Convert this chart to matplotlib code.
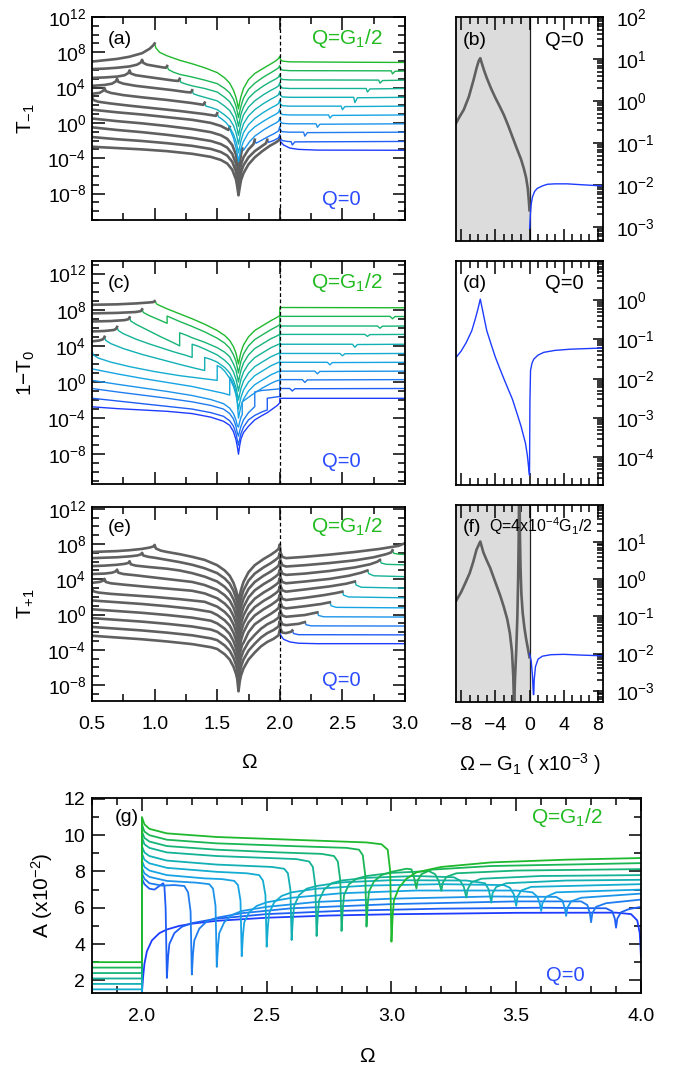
import numpy as np
import matplotlib
matplotlib.use("Agg")
import matplotlib.pyplot as plt
from matplotlib.ticker import (FixedLocator, MultipleLocator, FuncFormatter,
                               LogLocator, NullFormatter)

plt.rcParams['font.family'] = ['Liberation Sans', 'DejaVu Sans']
plt.rcParams['mathtext.fontset'] = 'custom'
plt.rcParams['mathtext.rm'] = 'Liberation Sans'
plt.rcParams['mathtext.it'] = 'Liberation Sans:italic'
plt.rcParams['mathtext.bf'] = 'Liberation Sans:bold'
plt.rcParams['axes.linewidth'] = 1.3

# ---------------------------------------------------------------------------
# data, curves k = 0 .. 10  (Q = k/10 * G1/2)
# main panels: (Omega, log10 value)
# ---------------------------------------------------------------------------
TM1_CURVES = [
    [(0.5,-2.7),(0.7,-2.85),(0.9,-3.0),(1.1,-3.2),(1.3,-3.5),(1.45,-3.85),(1.53,-4.2),(1.58,-4.6),(1.62,-5.3),(1.65,-6.4),(1.66,-7.2),(1.67,-8.2),(1.68,-7.3),(1.69,-6.5),(1.71,-5.7),(1.75,-4.7),(1.8,-3.9),(1.86,-3.2),(1.92,-2.6),(1.97,-2.2),(1.99,-2.0),(2.0,-1.8),(2.005,-2.1),(2.03,-2.5),(2.08,-2.85),(2.15,-3.0),(2.3,-3.08),(3.0,-3.1)],
    [(0.5,-1.6),(0.7,-1.85),(0.9,-2.05),(1.1,-2.3),(1.3,-2.6),(1.45,-2.95),(1.53,-3.3),(1.58,-3.7),(1.62,-4.4),(1.65,-5.5),(1.66,-6.3),(1.67,-7.3),(1.68,-6.4),(1.69,-5.6),(1.71,-4.8),(1.75,-3.9),(1.8,-3.2),(1.86,-2.6),(1.89,-2.3),(1.9,-1.9),(1.91,-2.2),(1.95,-2.0),(1.99,-1.7),(2.0,-1.3),(2.005,-1.8),(2.02,-2.0),(2.06,-2.1),(2.09,-2.12),(2.1,-2.5),(2.12,-2.15),(3.0,-2.1)],
    [(0.5,-0.5),(0.7,-0.8),(0.9,-1.05),(1.1,-1.35),(1.3,-1.7),(1.45,-2.05),(1.53,-2.4),(1.58,-2.8),(1.62,-3.5),(1.65,-4.6),(1.66,-5.4),(1.67,-6.4),(1.68,-5.5),(1.69,-4.7),(1.71,-3.9),(1.75,-3.0),(1.79,-2.4),(1.8,-1.9),(1.81,-2.3),(1.85,-2.0),(1.9,-1.6),(1.95,-1.25),(1.99,-0.9),(2.0,-0.4),(2.005,-0.85),(2.02,-1.0),(2.08,-1.05),(2.19,-1.05),(2.2,-1.5),(2.22,-1.1),(3.0,-1.05)],
    [(0.5,0.5),(0.7,0.2),(0.9,-0.05),(1.1,-0.35),(1.3,-0.7),(1.45,-1.05),(1.53,-1.4),(1.58,-1.8),(1.62,-2.5),(1.65,-3.6),(1.66,-4.4),(1.67,-5.4),(1.68,-4.5),(1.69,-3.6),(1.7,-2.9),(1.71,-3.1),(1.73,-2.7),(1.76,-2.1),(1.8,-1.5),(1.87,-0.8),(1.93,-0.3),(1.97,0.0),(1.99,0.2),(2.0,0.6),(2.005,0.15),(2.02,-0.05),(2.08,-0.1),(2.29,-0.1),(2.3,-0.5),(2.32,-0.15),(3.0,-0.1)],
    [(0.5,1.5),(0.7,1.2),(0.9,0.95),(1.1,0.65),(1.3,0.35),(1.45,0.0),(1.53,-0.35),(1.59,-0.8),(1.6,-0.45),(1.61,-1.0),(1.63,-1.7),(1.65,-2.8),(1.66,-3.5),(1.67,-4.4),(1.68,-3.6),(1.69,-2.9),(1.71,-2.1),(1.75,-1.1),(1.8,-0.45),(1.87,0.2),(1.93,0.7),(1.97,1.0),(1.99,1.2),(2.0,1.6),(2.005,1.15),(2.02,0.95),(2.08,0.9),(2.39,0.9),(2.4,0.55),(2.42,0.85),(3.0,0.9)],
    [(0.5,3.0),(0.51,2.6),(0.55,2.4),(0.65,2.2),(0.8,1.95),(1.0,1.65),(1.2,1.35),(1.4,1.0),(1.49,0.8),(1.5,1.1),(1.51,0.7),(1.54,0.4),(1.57,0.05),(1.6,-0.5),(1.63,-1.3),(1.65,-2.1),(1.66,-2.7),(1.67,-3.4),(1.68,-2.7),(1.69,-2.0),(1.71,-1.1),(1.75,-0.2),(1.8,0.5),(1.87,1.2),(1.93,1.7),(1.97,2.0),(1.99,2.2),(2.0,2.6),(2.005,2.15),(2.02,1.95),(2.08,1.9),(2.49,1.9),(2.5,1.5),(2.52,1.85),(3.0,1.9)],
    [(0.5,3.3),(0.56,3.4),(0.59,3.65),(0.6,3.95),(0.61,3.6),(0.65,3.4),(0.75,3.15),(0.9,2.9),(1.1,2.6),(1.3,2.25),(1.39,2.05),(1.4,2.3),(1.41,1.9),(1.45,1.75),(1.5,1.5),(1.56,0.9),(1.6,0.4),(1.63,-0.3),(1.65,-1.1),(1.66,-1.7),(1.67,-2.4),(1.68,-1.7),(1.69,-1.0),(1.71,-0.1),(1.75,0.8),(1.8,1.5),(1.87,2.2),(1.93,2.7),(1.97,3.0),(1.99,3.2),(2.0,3.6),(2.005,3.15),(2.02,2.95),(2.08,2.9),(2.59,2.9),(2.6,2.3),(2.62,2.85),(3.0,2.9)],
    [(0.5,4.2),(0.6,4.3),(0.66,4.45),(0.69,4.7),(0.7,5.0),(0.71,4.65),(0.75,4.45),(0.85,4.2),(1.0,3.95),(1.15,3.7),(1.25,3.5),(1.29,3.45),(1.3,3.7),(1.31,3.3),(1.35,3.1),(1.4,2.9),(1.5,2.5),(1.56,1.9),(1.6,1.4),(1.63,0.7),(1.65,-0.1),(1.66,-0.7),(1.67,-1.4),(1.68,-0.7),(1.69,0.0),(1.71,0.9),(1.75,1.8),(1.8,2.5),(1.87,3.2),(1.93,3.7),(1.97,4.0),(1.99,4.2),(2.0,4.55),(2.005,4.15),(2.02,3.95),(2.08,3.9),(2.69,3.9),(2.7,3.5),(2.72,3.85),(3.0,3.9)],
    [(0.5,5.1),(0.6,5.15),(0.7,5.25),(0.76,5.4),(0.79,5.65),(0.8,5.95),(0.81,5.6),(0.85,5.4),(0.95,5.2),(1.05,5.0),(1.15,4.8),(1.19,4.75),(1.2,5.0),(1.21,4.6),(1.25,4.4),(1.3,4.2),(1.4,3.9),(1.5,3.5),(1.56,2.9),(1.6,2.4),(1.63,1.7),(1.65,0.9),(1.66,0.3),(1.67,-0.4),(1.68,0.3),(1.69,1.0),(1.71,1.8),(1.75,2.8),(1.8,3.5),(1.87,4.2),(1.93,4.7),(1.97,5.0),(1.99,5.2),(2.0,5.5),(2.005,5.1),(2.02,4.92),(2.08,4.87),(2.79,4.85),(2.8,4.5),(2.82,4.8),(3.0,4.85)],
    [(0.5,6.1),(0.6,6.15),(0.7,6.25),(0.8,6.4),(0.86,6.6),(0.89,6.85),(0.9,7.15),(0.91,6.8),(0.94,6.6),(1.0,6.45),(1.06,6.3),(1.09,6.25),(1.1,6.45),(1.11,6.05),(1.15,5.75),(1.2,5.5),(1.3,5.2),(1.4,4.85),(1.5,4.45),(1.56,3.9),(1.6,3.4),(1.63,2.7),(1.65,1.9),(1.66,1.3),(1.67,0.6),(1.68,1.3),(1.69,1.9),(1.71,2.8),(1.75,3.8),(1.8,4.5),(1.87,5.2),(1.93,5.7),(1.97,6.05),(1.99,6.25),(2.0,6.5),(2.005,6.15),(2.02,5.98),(2.08,5.92),(2.89,5.9),(2.9,5.55),(2.92,5.85),(3.0,5.88)],
    [(0.5,6.95),(0.6,7.1),(0.7,7.25),(0.8,7.5),(0.9,7.9),(0.96,8.4),(0.99,8.8),(1.0,9.0),(1.01,8.5),(1.04,8.0),(1.1,7.6),(1.2,7.1),(1.3,6.7),(1.4,6.25),(1.5,5.7),(1.56,5.1),(1.6,4.5),(1.63,3.7),(1.65,2.9),(1.66,2.3),(1.67,1.6),(1.68,2.4),(1.69,3.0),(1.71,3.9),(1.75,4.9),(1.8,5.6),(1.87,6.2),(1.93,6.7),(1.97,7.05),(1.99,7.3),(2.0,7.55),(2.005,7.2),(2.02,7.0),(2.08,6.92),(2.5,6.88),(3.0,6.85)],
]
TM1_GRAY_END = [2.0, 1.9, 1.8, 1.7, 1.6, 1.5, 1.4, 1.3, 1.2, 1.1, 1.0]

T0_CURVES = [
    [(0.5,-2.75),(0.7,-2.95),(0.9,-3.1),(1.1,-3.25),(1.3,-3.5),(1.45,-3.9),(1.55,-4.35),(1.6,-4.8),(1.63,-5.5),(1.65,-6.4),(1.66,-7.1),(1.67,-8.0),(1.68,-7.0),(1.69,-6.3),(1.71,-5.6),(1.75,-4.9),(1.8,-4.2),(1.86,-3.7),(1.9,-3.4),(1.95,-2.9),(1.98,-2.6),(2.0,-2.3),(2.0,-1.81),(3.0,-1.81)],
    [(0.5,-1.8),(0.7,-2.1),(0.9,-2.4),(1.1,-2.7),(1.3,-3.0),(1.45,-3.4),(1.55,-3.8),(1.6,-4.3),(1.63,-4.9),(1.65,-5.7),(1.66,-6.4),(1.67,-7.0),(1.68,-6.3),(1.69,-5.7),(1.71,-5.0),(1.75,-4.2),(1.8,-3.7),(1.86,-3.3),(1.9,-3.1),(1.9,-1.8),(1.95,-1.7),(2.0,-1.6),(2.0,-0.72),(2.08,-0.72),(2.1,-1.0),(2.12,-0.75),(3.0,-0.72)],
    [(0.5,-0.72),(0.7,-1.1),(0.9,-1.45),(1.1,-1.8),(1.3,-2.2),(1.45,-2.6),(1.55,-3.0),(1.6,-3.5),(1.63,-4.1),(1.65,-4.9),(1.66,-5.6),(1.67,-6.0),(1.68,-5.4),(1.69,-4.9),(1.71,-4.2),(1.75,-3.4),(1.8,-2.73),(1.8,-1.1),(1.85,-0.95),(1.93,-0.85),(1.97,-0.8),(2.0,-0.75),(2.0,0.26),(2.18,0.26),(2.2,-0.05),(2.22,0.23),(3.0,0.26)],
    [(0.5,0.18),(0.7,-0.25),(0.9,-0.65),(1.1,-1.05),(1.3,-1.5),(1.45,-1.95),(1.55,-2.4),(1.6,-2.9),(1.63,-3.5),(1.65,-4.2),(1.66,-4.8),(1.67,-5.0),(1.68,-4.4),(1.69,-3.9),(1.7,-3.6),(1.7,-2.2),(1.72,-2.0),(1.75,-1.7),(1.8,-1.2),(1.87,-0.6),(1.93,-0.15),(1.97,0.1),(1.995,0.2),(2.0,0.25),(2.0,1.2),(2.28,1.2),(2.3,0.9),(2.32,1.17),(3.0,1.2)],
    [(0.5,1.45),(0.7,0.9),(0.9,0.4),(1.1,-0.05),(1.3,-0.5),(1.45,-0.95),(1.55,-1.25),(1.6,-1.45),(1.6,0.54),(1.62,0.1),(1.64,-0.6),(1.65,-1.2),(1.66,-2.2),(1.67,-4.0),(1.68,-3.3),(1.69,-2.7),(1.71,-1.9),(1.75,-1.0),(1.8,-0.3),(1.87,0.3),(1.93,0.8),(1.97,1.05),(1.995,1.2),(2.0,1.25),(2.0,2.18),(2.38,2.18),(2.4,1.9),(2.42,2.15),(3.0,2.18)],
    [(0.5,3.45),(0.51,3.0),(0.55,2.65),(0.65,2.2),(0.8,1.7),(1.0,1.15),(1.2,0.7),(1.4,0.35),(1.5,0.18),(1.5,1.82),(1.53,1.6),(1.56,1.2),(1.6,0.4),(1.63,-0.5),(1.65,-1.4),(1.66,-2.1),(1.67,-3.0),(1.68,-2.3),(1.69,-1.7),(1.71,-0.9),(1.75,0.0),(1.8,0.7),(1.87,1.3),(1.93,1.8),(1.97,2.05),(1.995,2.2),(2.0,2.25),(2.0,3.16),(2.48,3.16),(2.5,2.9),(2.52,3.13),(3.0,3.16)],
    [(0.5,4.5),(0.56,4.6),(0.59,4.75),(0.6,5.0),(0.61,4.6),(0.65,4.25),(0.75,3.7),(0.9,3.05),(1.05,2.5),(1.2,1.95),(1.3,1.6),(1.4,1.27),(1.4,2.72),(1.45,2.5),(1.5,2.2),(1.56,1.6),(1.6,1.0),(1.63,0.2),(1.65,-0.6),(1.66,-1.3),(1.67,-2.0),(1.68,-1.3),(1.69,-0.7),(1.71,0.1),(1.75,1.0),(1.8,1.7),(1.87,2.3),(1.93,2.8),(1.97,3.05),(1.995,3.2),(2.0,3.25),(2.0,4.18),(2.58,4.18),(2.6,3.85),(2.62,4.15),(3.0,4.18)],
    [(0.5,5.6),(0.6,5.65),(0.67,5.75),(0.69,5.85),(0.7,6.1),(0.71,5.7),(0.75,5.35),(0.85,4.75),(0.95,4.25),(1.05,3.8),(1.15,3.35),(1.25,2.95),(1.3,2.72),(1.3,4.18),(1.35,3.95),(1.4,3.65),(1.5,3.0),(1.56,2.4),(1.6,1.85),(1.63,1.1),(1.65,0.3),(1.66,-0.3),(1.67,-1.0),(1.68,-0.3),(1.69,0.3),(1.71,1.1),(1.75,2.0),(1.8,2.7),(1.87,3.3),(1.93,3.8),(1.97,4.05),(1.995,4.2),(2.0,4.25),(2.0,5.27),(2.68,5.27),(2.7,5.05),(2.72,5.25),(3.0,5.27)],
    [(0.5,6.7),(0.65,6.75),(0.76,6.85),(0.79,6.95),(0.8,7.15),(0.81,6.75),(0.85,6.4),(0.95,5.7),(1.05,5.0),(1.15,4.35),(1.2,4.0),(1.2,5.45),(1.25,5.2),(1.3,4.9),(1.4,4.4),(1.5,3.8),(1.56,3.3),(1.6,2.8),(1.63,2.0),(1.65,1.3),(1.66,0.65),(1.67,0.0),(1.68,0.7),(1.69,1.3),(1.71,2.1),(1.75,3.0),(1.8,3.7),(1.87,4.3),(1.93,4.8),(1.97,5.05),(1.995,5.25),(2.0,5.3),(2.0,6.2),(2.78,6.2),(2.8,5.95),(2.82,6.18),(3.0,6.2)],
    [(0.5,7.6),(0.7,7.65),(0.85,7.75),(0.89,7.85),(0.9,8.05),(0.91,7.7),(0.95,7.4),(1.0,7.1),(1.05,6.8),(1.1,6.5),(1.1,7.3),(1.15,7.0),(1.2,6.7),(1.3,6.15),(1.4,5.55),(1.5,4.85),(1.56,4.3),(1.6,3.75),(1.63,3.0),(1.65,2.3),(1.66,1.65),(1.67,1.0),(1.68,1.7),(1.69,2.3),(1.71,3.1),(1.75,4.0),(1.8,4.7),(1.87,5.3),(1.93,5.8),(1.97,6.1),(1.995,6.3),(2.0,6.35),(2.0,7.27),(2.88,7.27),(2.9,7.0),(2.92,7.25),(3.0,7.25)],
    [(0.5,8.55),(0.7,8.6),(0.85,8.7),(0.95,8.8),(0.99,8.85),(1.0,8.95),(1.02,8.6),(1.1,8.1),(1.2,7.55),(1.3,7.0),(1.4,6.4),(1.5,5.7),(1.56,5.15),(1.6,4.6),(1.63,3.9),(1.65,3.2),(1.66,2.6),(1.67,2.0),(1.68,2.7),(1.69,3.3),(1.71,4.1),(1.75,5.0),(1.8,5.7),(1.87,6.3),(1.93,6.8),(1.97,7.1),(1.995,7.3),(2.0,7.35),(2.0,8.25),(3.0,8.22)],
]
T0_GRAY_END = [None, None, None, None, None, None, 0.6, 0.7, 0.8, 0.9, 1.0]

TP1_CURVES = [
    [(0.5,-2.4),(0.7,-2.6),(0.9,-2.8),(1.1,-3.05),(1.3,-3.35),(1.45,-3.7),(1.5,-3.9),(1.56,-4.5),(1.6,-5.1),(1.63,-5.9),(1.65,-6.7),(1.66,-7.3),(1.67,-8.7),(1.68,-7.6),(1.69,-6.9),(1.71,-6.1),(1.75,-5.1),(1.8,-4.3),(1.85,-3.6),(1.9,-3.1),(1.95,-2.75),(1.99,-2.35),(2.0,-1.75),(2.005,-2.3),(2.03,-2.8),(2.08,-3.1),(2.15,-3.25),(2.3,-3.3),(3.0,-3.3)],
    [(0.5,-1.4),(0.7,-1.6),(0.9,-1.8),(1.1,-2.05),(1.3,-2.35),(1.45,-2.7),(1.5,-2.9),(1.56,-3.5),(1.6,-4.1),(1.63,-4.9),(1.65,-5.7),(1.66,-6.3),(1.67,-7.7),(1.68,-6.6),(1.69,-5.9),(1.71,-5.1),(1.75,-4.1),(1.8,-3.3),(1.85,-2.6),(1.9,-2.1),(1.95,-1.75),(1.99,-1.35),(2.0,-0.75),(2.005,-1.6),(2.02,-2.05),(2.05,-2.1),(2.09,-1.95),(2.1,-1.8),(2.11,-2.15),(2.15,-2.28),(3.0,-2.3)],
    [(0.5,-0.4),(0.7,-0.6),(0.9,-0.8),(1.1,-1.05),(1.3,-1.35),(1.45,-1.7),(1.5,-1.95),(1.56,-2.55),(1.6,-3.15),(1.63,-3.95),(1.65,-4.75),(1.66,-5.35),(1.67,-6.7),(1.68,-5.6),(1.69,-4.9),(1.71,-4.1),(1.75,-3.1),(1.8,-2.3),(1.85,-1.6),(1.9,-1.1),(1.95,-0.75),(1.99,-0.35),(2.0,0.25),(2.005,-0.6),(2.02,-1.1),(2.05,-1.2),(2.15,-1.05),(2.2,-0.85),(2.21,-1.15),(2.25,-1.28),(3.0,-1.3)],
    [(0.5,0.6),(0.7,0.4),(0.9,0.2),(1.1,-0.05),(1.3,-0.35),(1.45,-0.7),(1.5,-1.0),(1.56,-1.6),(1.6,-2.2),(1.63,-3.0),(1.65,-3.8),(1.66,-4.4),(1.67,-5.7),(1.68,-4.6),(1.69,-3.9),(1.7,-3.4),(1.71,-3.2),(1.75,-2.0),(1.8,-1.1),(1.87,-0.4),(1.93,0.1),(1.97,0.5),(1.99,0.75),(2.0,1.25),(2.005,0.4),(2.02,-0.1),(2.05,-0.25),(2.2,-0.05),(2.3,0.25),(2.31,-0.1),(2.35,-0.25),(3.0,-0.28)],
    [(0.5,1.6),(0.7,1.4),(0.9,1.2),(1.1,0.95),(1.3,0.65),(1.45,0.3),(1.5,-0.05),(1.56,-0.65),(1.6,-1.25),(1.63,-2.05),(1.65,-2.85),(1.66,-3.45),(1.67,-4.7),(1.68,-3.6),(1.69,-2.9),(1.71,-2.0),(1.75,-0.9),(1.8,-0.1),(1.87,0.6),(1.93,1.1),(1.97,1.5),(1.99,1.75),(2.0,2.25),(2.005,1.4),(2.02,0.85),(2.05,0.7),(2.2,0.95),(2.33,1.2),(2.4,1.4),(2.41,1.0),(2.45,0.82),(3.0,0.76)],
    [(0.5,3.0),(0.51,2.65),(0.55,2.5),(0.65,2.35),(0.8,2.2),(1.0,2.0),(1.2,1.75),(1.4,1.45),(1.5,0.9),(1.56,0.3),(1.6,-0.3),(1.63,-1.1),(1.65,-1.9),(1.66,-2.5),(1.67,-3.7),(1.68,-2.6),(1.69,-1.95),(1.71,-1.05),(1.75,0.05),(1.8,0.85),(1.87,1.55),(1.93,2.05),(1.97,2.45),(1.99,2.7),(2.0,3.2),(2.005,2.35),(2.02,1.8),(2.05,1.65),(2.2,1.9),(2.35,2.2),(2.45,2.45),(2.5,2.6),(2.51,2.2),(2.55,2.0),(3.0,1.9)],
    [(0.5,3.6),(0.56,3.7),(0.59,3.85),(0.6,4.05),(0.61,3.7),(0.65,3.55),(0.75,3.4),(0.9,3.2),(1.1,2.95),(1.3,2.7),(1.4,2.4),(1.5,1.85),(1.56,1.25),(1.6,0.65),(1.63,-0.15),(1.65,-0.95),(1.66,-1.55),(1.67,-2.7),(1.68,-1.65),(1.69,-1.0),(1.71,-0.1),(1.75,1.0),(1.8,1.8),(1.87,2.5),(1.93,3.0),(1.97,3.4),(1.99,3.65),(2.0,4.15),(2.005,3.3),(2.02,2.75),(2.05,2.6),(2.2,2.85),(2.4,3.2),(2.53,3.5),(2.6,3.75),(2.61,3.35),(2.65,3.1),(3.0,3.0)],
    [(0.5,4.6),(0.6,4.65),(0.66,4.75),(0.69,4.9),(0.7,5.1),(0.71,4.75),(0.75,4.6),(0.85,4.45),(1.0,4.2),(1.15,3.95),(1.3,3.7),(1.4,3.35),(1.5,2.8),(1.56,2.2),(1.6,1.6),(1.63,0.8),(1.65,0.0),(1.66,-0.6),(1.67,-1.7),(1.68,-0.7),(1.69,-0.05),(1.71,0.85),(1.75,1.95),(1.8,2.75),(1.87,3.45),(1.93,3.95),(1.97,4.35),(1.99,4.6),(2.0,5.1),(2.005,4.25),(2.02,3.7),(2.05,3.55),(2.2,3.75),(2.4,4.05),(2.55,4.4),(2.65,4.75),(2.7,5.0),(2.71,4.65),(2.75,4.4),(3.0,4.3)],
    [(0.5,5.5),(0.6,5.55),(0.7,5.65),(0.76,5.75),(0.79,5.85),(0.8,6.05),(0.81,5.7),(0.85,5.55),(0.95,5.4),(1.1,5.2),(1.2,5.0),(1.3,4.7),(1.4,4.3),(1.5,3.75),(1.56,3.15),(1.6,2.55),(1.63,1.75),(1.65,0.95),(1.66,0.35),(1.67,-0.7),(1.68,0.25),(1.69,0.9),(1.71,1.8),(1.75,2.9),(1.8,3.7),(1.87,4.4),(1.93,4.9),(1.97,5.3),(1.99,5.55),(2.0,6.05),(2.005,5.2),(2.02,4.65),(2.05,4.5),(2.2,4.65),(2.4,4.95),(2.6,5.35),(2.72,5.7),(2.78,6.0),(2.8,6.2),(2.81,5.85),(2.85,5.7),(3.0,5.64)],
    [(0.5,6.4),(0.6,6.45),(0.7,6.5),(0.8,6.6),(0.86,6.7),(0.89,6.82),(0.9,7.0),(0.91,6.7),(0.95,6.55),(1.0,6.45),(1.1,6.2),(1.2,5.95),(1.3,5.65),(1.4,5.25),(1.5,4.7),(1.56,4.1),(1.6,3.5),(1.63,2.7),(1.65,1.9),(1.66,1.3),(1.67,0.3),(1.68,1.2),(1.69,1.85),(1.71,2.75),(1.75,3.85),(1.8,4.65),(1.87,5.35),(1.93,5.85),(1.97,6.25),(1.99,6.5),(2.0,7.0),(2.005,6.15),(2.02,5.6),(2.05,5.45),(2.2,5.6),(2.4,5.85),(2.6,6.15),(2.75,6.5),(2.85,6.85),(2.89,7.05),(2.9,7.3),(2.91,6.95),(2.95,6.85),(3.0,6.82)],
    [(0.5,7.1),(0.6,7.15),(0.7,7.2),(0.8,7.3),(0.9,7.45),(0.96,7.6),(0.99,7.72),(1.0,7.9),(1.01,7.5),(1.05,7.25),(1.1,7.1),(1.2,6.85),(1.3,6.55),(1.4,6.2),(1.5,5.6),(1.56,5.0),(1.6,4.4),(1.63,3.6),(1.65,2.8),(1.66,2.2),(1.67,1.3),(1.68,2.2),(1.69,2.8),(1.71,3.7),(1.75,4.8),(1.8,5.6),(1.87,6.3),(1.93,6.8),(1.97,7.2),(1.99,7.45),(2.0,7.95),(2.005,7.1),(2.02,6.55),(2.05,6.4),(2.2,6.55),(2.4,6.8),(2.6,7.1),(2.8,7.45),(2.95,7.8),(3.0,8.1)],
]
TP1_GRAY_END = [2.0, 2.1, 2.2, 2.3, 2.4, 2.5, 2.6, 2.7, 2.8, 2.9, 3.0]

# panel (g): (Omega, A in units of 1e-2)
ABS_CURVES = [
    [(2.0,1.3),(2.005,2.2),(2.01,2.9),(2.02,3.6),(2.04,4.2),(2.07,4.6),(2.1,4.8),(2.15,5.0),(2.2,5.12),(2.3,5.28),(2.5,5.45),(2.75,5.57),(3.0,5.64),(3.5,5.72),(3.9,5.73),(3.96,5.65),(3.985,5.3),(3.995,4.6),(4.0,3.24)],
    [(2.0,1.3),(2.0,7.6),(2.01,7.3),(2.03,7.05),(2.05,7.0),(2.07,7.2),(2.085,7.35),(2.09,7.2),(2.095,6.0),(2.1,2.13),(2.105,3.3),(2.11,4.0),(2.13,4.6),(2.16,4.95),(2.2,5.15),(2.3,5.4),(2.5,5.65),(2.8,5.83),(3.2,5.95),(3.6,6.0),(3.86,5.97),(3.885,5.8),(3.895,5.4),(3.9,4.9),(3.905,5.4),(3.92,5.75),(3.95,5.92),(4.0,6.05)],
    [(2.0,1.3),(2.0,7.9),(2.01,7.6),(2.03,7.35),(2.08,7.22),(2.13,7.25),(2.17,7.2),(2.185,6.85),(2.195,5.8),(2.2,2.32),(2.205,3.5),(2.21,4.2),(2.23,4.85),(2.26,5.25),(2.3,5.45),(2.4,5.7),(2.6,5.97),(3.0,6.2),(3.5,6.35),(3.76,6.35),(3.785,6.15),(3.795,5.7),(3.8,5.2),(3.805,5.7),(3.82,6.05),(3.86,6.25),(4.0,6.45)],
    [(2.0,1.3),(2.0,8.2),(2.01,7.9),(2.03,7.7),(2.1,7.48),(2.22,7.38),(2.27,7.3),(2.285,7.05),(2.295,6.1),(2.3,2.74),(2.305,3.9),(2.31,4.6),(2.33,5.2),(2.36,5.6),(2.4,5.82),(2.5,6.05),(2.7,6.32),(3.0,6.5),(3.4,6.62),(3.66,6.6),(3.685,6.4),(3.695,5.95),(3.7,5.55),(3.705,6.0),(3.72,6.35),(3.76,6.55),(4.0,6.78)],
    [(2.0,1.3),(2.0,8.6),(2.01,8.25),(2.03,8.05),(2.1,7.8),(2.25,7.62),(2.32,7.58),(2.37,7.48),(2.385,7.25),(2.395,6.4),(2.4,3.33),(2.405,4.5),(2.41,5.2),(2.43,5.75),(2.46,6.1),(2.5,6.3),(2.6,6.55),(2.8,6.8),(3.1,6.95),(3.5,6.95),(3.565,6.85),(3.585,6.6),(3.595,6.2),(3.6,5.82),(3.605,6.25),(3.62,6.6),(3.66,6.85),(4.0,7.0)],
    [(1.8,1.5),(2.0,1.5),(2.0,9.0),(2.01,8.65),(2.03,8.45),(2.1,8.2),(2.3,7.98),(2.42,7.9),(2.47,7.8),(2.485,7.5),(2.495,6.7),(2.5,3.85),(2.505,5.0),(2.51,5.7),(2.53,6.3),(2.56,6.65),(2.6,6.85),(2.7,7.05),(2.9,7.22),(3.2,7.3),(3.45,7.25),(3.475,7.1),(3.49,6.75),(3.5,6.1),(3.505,6.6),(3.52,6.95),(3.56,7.15),(4.0,7.3)],
    [(1.8,1.8),(2.0,1.8),(2.0,9.4),(2.01,9.05),(2.03,8.85),(2.1,8.6),(2.3,8.38),(2.52,8.25),(2.57,8.15),(2.585,7.9),(2.595,7.0),(2.6,4.22),(2.605,5.4),(2.61,6.1),(2.63,6.7),(2.66,7.05),(2.7,7.2),(2.8,7.4),(3.0,7.52),(3.3,7.5),(3.375,7.35),(3.39,7.0),(3.4,6.28),(3.405,6.8),(3.42,7.15),(3.46,7.35),(3.7,7.5),(4.0,7.54)],
    [(1.8,2.1),(2.0,2.1),(2.0,9.9),(2.01,9.5),(2.03,9.3),(2.1,9.05),(2.3,8.85),(2.55,8.72),(2.62,8.68),(2.67,8.55),(2.685,8.25),(2.695,7.2),(2.7,4.44),(2.705,5.6),(2.71,6.4),(2.73,7.0),(2.76,7.35),(2.8,7.5),(2.9,7.65),(3.1,7.75),(3.25,7.68),(3.275,7.5),(3.29,7.15),(3.3,6.56),(3.305,7.0),(3.32,7.4),(3.36,7.6),(3.6,7.75),(4.0,7.8)],
    [(1.8,2.4),(2.0,2.4),(2.0,10.2),(2.01,9.85),(2.03,9.65),(2.1,9.4),(2.3,9.2),(2.55,9.05),(2.72,8.97),(2.77,8.85),(2.785,8.55),(2.795,7.5),(2.8,4.72),(2.805,5.9),(2.81,6.7),(2.83,7.3),(2.86,7.6),(2.9,7.75),(3.0,7.92),(3.15,8.02),(3.175,7.85),(3.19,7.45),(3.2,6.93),(3.205,7.35),(3.22,7.7),(3.26,7.9),(3.5,8.05),(4.0,8.13)],
    [(1.8,2.7),(2.0,2.7),(2.0,10.6),(2.01,10.2),(2.03,10.0),(2.1,9.75),(2.3,9.55),(2.6,9.4),(2.82,9.3),(2.87,9.2),(2.885,8.9),(2.895,7.8),(2.9,4.96),(2.905,6.2),(2.91,6.9),(2.93,7.45),(2.96,7.8),(3.0,7.98),(3.06,8.15),(3.08,8.12),(3.09,7.7),(3.1,7.06),(3.105,7.5),(3.12,7.85),(3.16,8.1),(3.4,8.3),(4.0,8.46)],
    [(1.8,3.0),(2.0,3.0),(2.0,11.0),(2.01,10.6),(2.03,10.35),(2.1,10.1),(2.3,9.9),(2.6,9.75),(2.9,9.6),(2.96,9.5),(2.985,9.2),(2.995,8.0),(3.0,4.13),(3.005,5.6),(3.01,6.4),(3.03,7.1),(3.06,7.6),(3.1,7.95),(3.2,8.25),(3.4,8.5),(3.7,8.65),(4.0,8.74)],
]

# side panels: (Omega - G1 in 1e-3, log10 value)
B_GRAY = [(-8.6,-0.53),(-8.2,-0.38),(-7.7,-0.21),(-7.1,0.1),(-6.55,0.5),(-6.2,0.78),(-5.95,0.95),(-5.76,1.02),(-5.55,0.88),(-5.3,0.72),(-5.0,0.55),(-4.5,0.3),(-4.0,0.08),(-3.5,-0.12),(-3.0,-0.33),(-2.5,-0.58),(-2.0,-0.85),(-1.5,-1.12),(-1.0,-1.38),(-0.67,-1.6),(-0.4,-1.82),(-0.2,-2.08),(-0.08,-2.36),(0.0,-2.6)]
B_BLUE = [(0.02,-3.03),(0.1,-2.7),(0.2,-2.45),(0.35,-2.28),(0.6,-2.15),(0.9,-2.08),(1.5,-2.02),(2.1,-1.98),(3.0,-1.97),(4.4,-1.97),(6.0,-1.99),(8.6,-2.02)]
D_BLUE = [(-8.6,-1.46),(-8.0,-1.3),(-7.4,-1.08),(-6.75,-0.78),(-6.3,-0.45),(-6.0,-0.2),(-5.76,0.02),(-5.5,-0.25),(-5.25,-0.52),(-5.0,-0.78),(-4.5,-1.12),(-4.0,-1.45),(-3.5,-1.73),(-3.0,-2.0),(-2.6,-2.21),(-2.0,-2.52),(-1.45,-2.89),(-1.0,-3.2),(-0.7,-3.45),(-0.47,-3.64),(-0.25,-3.95),(-0.08,-4.3),(0.0,-4.45),(0.05,-2.6),(0.12,-1.79),(0.3,-1.6),(0.51,-1.5),(1.0,-1.4),(1.68,-1.33),(3.0,-1.28),(4.8,-1.25),(8.6,-1.22)]
F_GRAY = [(-8.6,-0.59),(-8.0,-0.35),(-7.5,-0.1),(-7.0,0.16),(-6.6,0.45),(-6.2,0.79),(-5.76,1.01),(-5.4,0.72),(-5.0,0.5),(-4.6,0.3),(-4.0,-0.08),(-3.4,-0.46),(-3.0,-0.75),(-2.6,-1.08),(-2.3,-1.45),(-2.05,-1.95),(-1.9,-2.6),(-1.8,-3.5),(-1.7,-2.7),(-1.55,-1.9),(-1.42,-1.0),(-1.33,0.0),(-1.27,1.0),(-1.22,2.2),(-1.19,3.0),(-1.12,1.2),(-1.05,0.3),(-0.95,-0.4),(-0.8,-0.9),(-0.6,-1.3),(-0.4,-1.6),(-0.2,-1.85),(0.0,-2.1)]
F_BLUE = [(0.0,-2.0),(0.2,-2.2),(0.35,-2.6),(0.45,-3.1),(0.5,-3.1),(0.55,-2.7),(0.7,-2.35),(1.0,-2.15),(1.5,-2.07),(2.5,-2.03),(4.0,-2.02),(6.0,-2.04),(8.6,-2.06)]

Q_COLORS = ['#1e3cff', '#1f5ef5', '#1f7cf0', '#1c94ea', '#17a4e4', '#14acd0',
            '#12b0b4', '#14b296', '#16b478', '#1ab656', '#1fb92e']
GRAY = '#606060'
GREEN_TXT = '#22bb22'
BLUE_TXT = '#2a4bff'

W, H = 689, 1070

Q_HALF = r'Q=G$\mathregular{_1}$/2'


def box(x0, y0, x1, y1):
    return [x0 / W, 1 - y1 / H, (x1 - x0) / W, (y1 - y0) / H]


def log_fmt(v, pos):
    return r'$\mathregular{10^{%d}}$' % int(round(np.log10(v)))


def minus_fmt(v, pos):
    return ('%g' % v).replace('-', '\u2212')


def draw_family(ax, curves, gray_end):
    for k, pts in enumerate(curves):
        x, y = np.array(pts, dtype=float).T
        y = 10.0 ** y
        g = gray_end[k]
        if g is None:
            ax.plot(x, y, color=Q_COLORS[k], lw=1.0)
            continue
        col = x >= g - 1e-9
        gr = x <= g + 1e-9
        ax.plot(x[col], y[col], color=Q_COLORS[k], lw=1.0)
        ax.plot(x[gr], y[gr], color=GRAY, lw=1.9)


def style_main(ax, ylo, yhi, xlabels):
    ax.set_xlim(0.5, 3.0)
    ax.set_yscale('log')
    ax.set_ylim(10.0 ** ylo, 10.0 ** yhi)
    ax.xaxis.set_major_locator(MultipleLocator(0.5))
    ax.xaxis.set_minor_locator(MultipleLocator(0.25))
    ax.yaxis.set_major_locator(FixedLocator(10.0 ** np.arange(-8, 13, 4)))
    ax.yaxis.set_minor_locator(FixedLocator(10.0 ** np.arange(-12, 15)))
    ax.yaxis.set_major_formatter(FuncFormatter(log_fmt))
    ax.yaxis.set_minor_formatter(NullFormatter())
    ax.tick_params(which='both', direction='in', top=True, right=True,
                   labelsize=14, width=1.1)
    ax.tick_params(which='major', length=9)
    ax.tick_params(which='minor', length=5)
    ax.tick_params(axis='y', pad=4)
    ax.tick_params(axis='x', pad=11, labelbottom=xlabels)
    ax.xaxis.set_major_formatter(FuncFormatter(lambda v, p: '%.1f' % v))
    ax.axvline(2.0, color='k', lw=0.9, ls=(0, (3, 2)), zorder=3)


def style_side(ax, ylo, yhi, xlabels):
    ax.set_xlim(-8.6, 8.6)
    ax.set_yscale('log')
    ax.set_ylim(10.0 ** ylo, 10.0 ** yhi)
    ax.xaxis.set_major_locator(MultipleLocator(4))
    ax.xaxis.set_minor_locator(MultipleLocator(1))
    ax.xaxis.set_major_formatter(FuncFormatter(minus_fmt))
    ax.yaxis.tick_right()
    ax.yaxis.set_major_locator(LogLocator(base=10, numticks=20))
    ax.yaxis.set_minor_locator(LogLocator(base=10, subs=np.arange(2, 10), numticks=20))
    ax.yaxis.set_major_formatter(FuncFormatter(log_fmt))
    ax.yaxis.set_minor_formatter(NullFormatter())
    ax.tick_params(axis='x', which='both', direction='in', top=True, bottom=True,
                   labelsize=14, width=1.1, pad=11, labelbottom=xlabels)
    ax.tick_params(axis='x', which='major', length=9)
    ax.tick_params(axis='x', which='minor', length=5)
    ax.tick_params(axis='y', which='both', direction='in', left=False, right=True,
                   labelsize=14, width=1.1, pad=9)
    ax.tick_params(axis='y', which='major', length=7)
    ax.tick_params(axis='y', which='minor', length=4)


fig = plt.figure(figsize=(W / 100, H / 100), dpi=100)

ax_a = fig.add_axes(box(92, 17, 405, 220))
ax_b = fig.add_axes(box(456, 17, 603, 241))
ax_c = fig.add_axes(box(92, 261, 405, 484))
ax_d = fig.add_axes(box(456, 261, 603, 485))
ax_e = fig.add_axes(box(92, 507, 405, 701))
ax_f = fig.add_axes(box(456, 505, 603, 702))
ax_g = fig.add_axes(box(92, 798, 641, 993))

# main log panels
draw_family(ax_a, TM1_CURVES, TM1_GRAY_END)
draw_family(ax_c, T0_CURVES, T0_GRAY_END)
draw_family(ax_e, TP1_CURVES, TP1_GRAY_END)
style_main(ax_a, -11.0, 12.0, False)
style_main(ax_c, -11.3, 13.4, False)
style_main(ax_e, -9.8, 12.2, True)

for ax, lab, (ylab, yq0) in zip([ax_a, ax_c, ax_e], ['(a)', '(c)', '(e)'],
                                [(0.887, 0.099), (0.897, 0.099), (0.895, 0.108)]):
    ax.text(0.051, ylab, lab, transform=ax.transAxes, fontsize=14, va='center', ha='left')
    ax.text(0.93, ylab + 0.005, Q_HALF, transform=ax.transAxes,
            fontsize=15, color=GREEN_TXT, va='center', ha='right')
    ax.text(0.796, yq0, 'Q=0', transform=ax.transAxes, fontsize=14.5,
            color=BLUE_TXT, va='center', ha='center')

# side panels
for ax in (ax_b, ax_f):
    ax.axvspan(-8.6, 0.0, color='#dcdcdc', zorder=0, lw=0)
    ax.axvline(0.0, color='#222222', lw=0.9, zorder=1)

x, y = np.array(B_GRAY).T
ax_b.plot(x, 10.0 ** y, color=GRAY, lw=1.9)
x, y = np.array(B_BLUE).T
ax_b.plot(x, 10.0 ** y, color=Q_COLORS[0], lw=1.0)
x, y = np.array(D_BLUE).T
ax_d.plot(x, 10.0 ** y, color=Q_COLORS[0], lw=1.0)
x, y = np.array(F_GRAY).T
ax_f.plot(x, 10.0 ** y, color=GRAY, lw=1.9)
x, y = np.array(F_BLUE).T
ax_f.plot(x, 10.0 ** y, color=Q_COLORS[0], lw=1.0)

style_side(ax_b, -3.33, 2.0, False)
style_side(ax_d, -4.7, 0.99, False)
style_side(ax_f, -3.3, 1.99, True)

ax_b.text(0.048, 0.897, '(b)', transform=ax_b.transAxes, fontsize=14, va='center')
ax_b.text(0.87, 0.897, 'Q=0', transform=ax_b.transAxes, fontsize=14.5, va='center', ha='right')
ax_d.text(0.048, 0.90, '(d)', transform=ax_d.transAxes, fontsize=14, va='center')
ax_d.text(0.87, 0.90, 'Q=0', transform=ax_d.transAxes, fontsize=14.5, va='center', ha='right')
ax_f.text(0.048, 0.888, '(f)', transform=ax_f.transAxes, fontsize=14, va='center')
ax_f.text(0.225, 0.895, r'Q=4x10$\mathregular{^{-4}}$G$\mathregular{_1}$/2',
          transform=ax_f.transAxes, fontsize=11.5, va='center', ha='left')

# panel (g)
for k, pts in enumerate(ABS_CURVES):
    x, y = np.array(pts, dtype=float).T
    ax_g.plot(x, y, color=Q_COLORS[k], lw=1.3)
ax_g.set_xlim(1.8, 4.0)
ax_g.set_ylim(1.3, 12.05)
ax_g.xaxis.set_major_locator(MultipleLocator(0.5))
ax_g.xaxis.set_minor_locator(MultipleLocator(0.1))
ax_g.yaxis.set_major_locator(MultipleLocator(2))
ax_g.yaxis.set_minor_locator(MultipleLocator(1))
ax_g.xaxis.set_major_formatter(FuncFormatter(lambda v, p: '%.1f' % v))
ax_g.tick_params(which='both', direction='in', top=True, right=True, labelsize=14, width=1.1)
ax_g.tick_params(which='major', length=9)
ax_g.tick_params(which='minor', length=5)
ax_g.tick_params(axis='x', pad=11)
ax_g.tick_params(axis='y', pad=5)
ax_g.text(0.042, 0.90, '(g)', transform=ax_g.transAxes, fontsize=14, va='center')
ax_g.text(0.931, 0.90, Q_HALF, transform=ax_g.transAxes,
          fontsize=15, color=GREEN_TXT, va='center', ha='right')
ax_g.text(0.862, 0.092, 'Q=0', transform=ax_g.transAxes, fontsize=14.5,
          color=BLUE_TXT, va='center', ha='center')

# axis titles
fig.text(26 / W, 1 - 118.5 / H, r'T$\mathregular{_{-1}}$', rotation=90, fontsize=15,
         ha='center', va='center')
fig.text(26 / W, 1 - 372.5 / H, '1\u2212T' + r'$\mathregular{_0}$', rotation=90, fontsize=15,
         ha='center', va='center')
fig.text(26 / W, 1 - 604 / H, r'T$\mathregular{_{+1}}$', rotation=90, fontsize=15,
         ha='center', va='center')
fig.text(42 / W, 1 - 895 / H, r'A (x10$\mathregular{^{-2}}$)', rotation=90, fontsize=15,
         ha='center', va='center')
fig.text(248.5 / W, 1 - 763 / H, '\u03a9', fontsize=15, ha='center', va='center')
fig.text(529.5 / W, 1 - 764 / H,
         '\u03a9 \u2013 G' + r'$\mathregular{_1}$' + ' ( x10' + r'$\mathregular{^{-3}}$' + ' )',
         fontsize=14.5, ha='center', va='center')
fig.text(366.5 / W, 1 - 1056 / H, '\u03a9', fontsize=15, ha='center', va='center')

fig.savefig('out.png', dpi=100)
